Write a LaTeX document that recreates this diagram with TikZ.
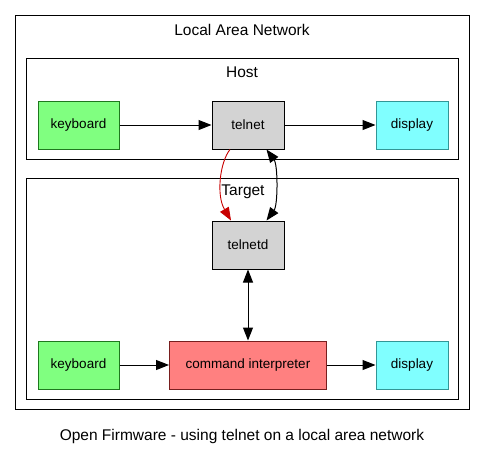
\documentclass[tikz,border=0pt]{standalone}
\usepackage{fontspec}
\setmainfont{Liberation Sans}
\usetikzlibrary{arrows.meta}
\definecolor{kbfill}{RGB}{128,255,128}
\definecolor{kbdraw}{RGB}{30,120,30}
\definecolor{dpfill}{RGB}{128,255,255}
\definecolor{dpdraw}{RGB}{50,150,150}
\definecolor{cifill}{RGB}{255,128,128}
\definecolor{cidraw}{RGB}{120,30,30}
\definecolor{tnfill}{RGB}{211,211,211}
\definecolor{redge}{RGB}{200,0,0}
\tikzset{
  box/.style={rectangle, line width=1pt, inner sep=0pt, font=\fontsize{13.5}{15}\selectfont},
  kb/.style={box, draw=kbdraw, fill=kbfill, minimum width=81pt, minimum height=48pt},
  dp/.style={box, draw=dpdraw, fill=dpfill, minimum width=72pt, minimum height=48pt},
  tn/.style={box, draw=black, fill=tnfill, minimum width=72pt, minimum height=48pt},
  ci/.style={box, draw=cidraw, fill=cifill, minimum width=157pt, minimum height=48pt},
  cluster/.style={draw=black, line width=1pt},
  clabel/.style={font=\fontsize{15.5}{17}\selectfont, inner sep=0pt},
  edge/.style={line width=1pt, -{Triangle[length=13pt,width=10pt]}},
  bedge/.style={line width=1pt, {Triangle[length=13pt,width=10pt]}-{Triangle[length=13pt,width=10pt]}}
}
\begin{document}
\begin{tikzpicture}[x=1pt,y=-1pt]
\useasboundingbox (0,0) rectangle (485,459);
% clusters
\draw[cluster] (15.5,15.5) rectangle (469.5,409.5);
\draw[cluster] (26.5,58.5) rectangle (458.5,159.5);
\draw[cluster] (26.5,178.5) rectangle (458.5,399.5);
\node[clabel] (lan) at (242,30) {Local Area Network};
\node[clabel] (host) at (242,72) {Host};
% host nodes
\node[kb] (hkb) at (78.5,125) {keyboard};
\node[tn] (telnet) at (248,125) {telnet};
\node[dp] (hdp) at (412,125) {display};
% target nodes
\node[tn] (telnetd) at (248,245) {telnetd};
\node[kb] (tkb) at (78.5,365) {keyboard};
\node[ci] (ci) at (248,365) {command interpreter};
\node[dp] (tdp) at (412,365) {display};
\node[clabel] (target) at (243,192) {Target};
% edges
\draw[edge] (hkb.east) -- (telnet.west);
\draw[edge] (telnet.east) -- (hdp.west);
\draw[edge] (tkb.east) -- (ci.west);
\draw[edge] (ci.east) -- (tdp.west);
\draw[bedge] (telnetd.south) -- (ci.north);
\draw[line width=0.9pt, draw=redge, -{Triangle[length=13pt,width=10pt,fill=redge]}]
  ([xshift=-18pt]telnet.south) .. controls (220,162) and (216,195) .. ([xshift=-17pt]telnetd.north);
\draw[bedge] ([xshift=18.5pt]telnet.south) .. controls (278,165) and (278,205) .. ([xshift=18.5pt]telnetd.north);
\node[clabel] (caption) at (242,436) {Open Firmware - using telnet on a local area network};
\end{tikzpicture}
\end{document}
